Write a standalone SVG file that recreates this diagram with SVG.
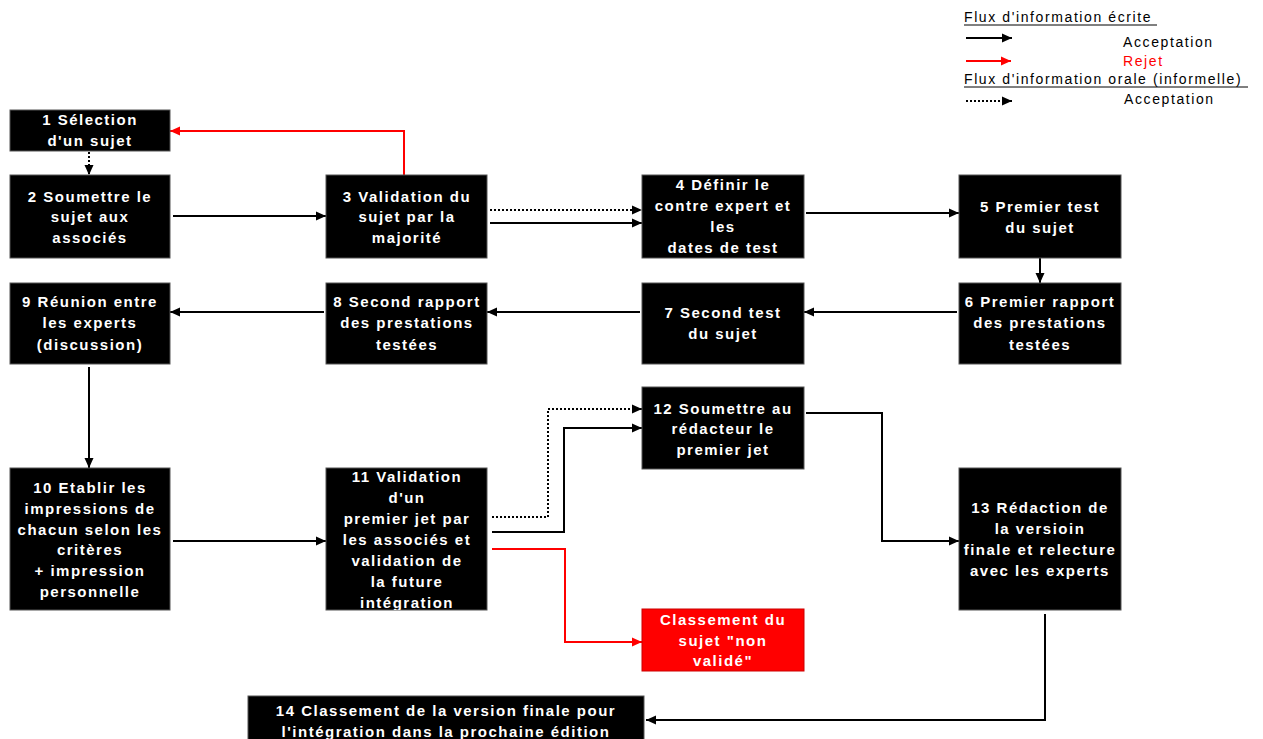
<svg xmlns="http://www.w3.org/2000/svg" width="1263" height="739" viewBox="0 0 1263 739">
<style>
.box{fill:#000;stroke:#555;stroke-width:1}
.red{fill:#ff0000;stroke:#cc0000;stroke-width:1}
.t{font-family:"Liberation Sans",Arial,sans-serif;font-weight:bold;font-size:15px;letter-spacing:1.5px;fill:#fff;text-anchor:middle}
.lg{font-family:"Liberation Sans",Arial,sans-serif;font-size:14px;letter-spacing:1.6px;fill:#000}
.c{fill:none;stroke:#000;stroke-width:2}
.d{fill:none;stroke:#000;stroke-width:2;stroke-dasharray:2,2}
.r{fill:none;stroke:#ff0000;stroke-width:2}
</style>
<defs>
<marker id="a" markerUnits="userSpaceOnUse" markerWidth="11" markerHeight="10" refX="10" refY="5" orient="auto"><path d="M0,0.5 L10,5 L0,9.5 z" fill="#000"/></marker>
<marker id="ar" markerUnits="userSpaceOnUse" markerWidth="11" markerHeight="10" refX="10" refY="5" orient="auto"><path d="M0,0.5 L10,5 L0,9.5 z" fill="#ff0000"/></marker>
<clipPath id="c11"><rect x="326" y="468" width="161" height="142"/></clipPath>
</defs>
<rect width="1263" height="739" fill="#fff"/>

<g id="legend">
<text class="lg" x="964" y="22">Flux d'information écrite</text>
<line x1="964" y1="25" x2="1157" y2="25" stroke="#000" stroke-width="1"/>
<line class="c" x1="966" y1="38" x2="1012" y2="38" marker-end="url(#a)"/>
<text class="lg" x="1123" y="47">Acceptation</text>
<line class="r" x1="966" y1="61" x2="1011" y2="61" marker-end="url(#ar)"/>
<text class="lg" x="1123" y="66" fill="#ff0000" style="fill:#ff0000">Rejet</text>
<text class="lg" x="964" y="84">Flux d'information orale (informelle)</text>
<line x1="964" y1="87" x2="1248" y2="87" stroke="#000" stroke-width="1"/>
<line class="d" x1="966" y1="101" x2="1012" y2="101" marker-end="url(#a)"/>
<text class="lg" x="1124" y="104">Acceptation</text>
</g>

<g id="connectors">
<line class="d" x1="89" y1="152" x2="89" y2="175" marker-end="url(#a)"/>
<line class="c" x1="173" y1="216" x2="326" y2="216" marker-end="url(#a)"/>
<polyline class="r" points="404,175 404,131 170,131" marker-end="url(#ar)"/>
<line class="d" x1="490" y1="210" x2="642" y2="210" marker-end="url(#a)"/>
<line class="c" x1="490" y1="223" x2="642" y2="223" marker-end="url(#a)"/>
<line class="c" x1="806" y1="213" x2="959" y2="213" marker-end="url(#a)"/>
<line class="c" x1="1040" y1="258" x2="1040" y2="283" marker-end="url(#a)"/>
<line class="c" x1="957" y1="312" x2="804" y2="312" marker-end="url(#a)"/>
<line class="c" x1="640" y1="312" x2="487" y2="312" marker-end="url(#a)"/>
<line class="c" x1="324" y1="312" x2="170" y2="312" marker-end="url(#a)"/>
<line class="c" x1="89" y1="367" x2="89" y2="468" marker-end="url(#a)"/>
<line class="c" x1="173" y1="541" x2="326" y2="541" marker-end="url(#a)"/>
<polyline class="d" points="492,517 548,517 548,409 642,409" marker-end="url(#a)"/>
<polyline class="c" points="492,532 564,532 564,428 642,428" marker-end="url(#a)"/>
<polyline class="r" points="492,549 565,549 565,642 642,642" marker-end="url(#ar)"/>
<polyline class="c" points="806,413 882,413 882,541 959,541" marker-end="url(#a)"/>
<polyline class="c" points="1045,614 1045,720 646,720" marker-end="url(#a)"/>
</g>

<g id="n1"><rect class="box" x="10" y="110" width="160" height="41"/>
<text class="t" x="90" y="125">1 Sélection</text><text class="t" x="90" y="146">d'un sujet</text></g>

<g id="n2"><rect class="box" x="10" y="175" width="160" height="83"/>
<text class="t" x="90" y="202">2 Soumettre le</text><text class="t" x="90" y="222">sujet aux</text><text class="t" x="90" y="243">associés</text></g>

<g id="n3"><rect class="box" x="326" y="175" width="161" height="83"/>
<text class="t" x="407" y="202">3 Validation du</text><text class="t" x="407" y="222">sujet par la</text><text class="t" x="407" y="243">majorité</text></g>

<g id="n4"><rect class="box" x="642" y="175" width="162" height="83"/>
<text class="t" x="723" y="190">4 Définir le</text><text class="t" x="723" y="211">contre expert et</text><text class="t" x="723" y="232">les</text><text class="t" x="723" y="253">dates de test</text></g>

<g id="n5"><rect class="box" x="959" y="175" width="162" height="83"/>
<text class="t" x="1040" y="212">5 Premier test</text><text class="t" x="1040" y="233">du sujet</text></g>

<g id="n6"><rect class="box" x="959" y="283" width="162" height="81"/>
<text class="t" x="1040" y="307">6 Premier rapport</text><text class="t" x="1040" y="328">des prestations</text><text class="t" x="1040" y="350">testées</text></g>

<g id="n7"><rect class="box" x="642" y="283" width="162" height="81"/>
<text class="t" x="723" y="318">7 Second test</text><text class="t" x="723" y="339">du sujet</text></g>

<g id="n8"><rect class="box" x="326" y="283" width="161" height="81"/>
<text class="t" x="407" y="307">8 Second rapport</text><text class="t" x="407" y="328">des prestations</text><text class="t" x="407" y="350">testées</text></g>

<g id="n9"><rect class="box" x="10" y="283" width="160" height="81"/>
<text class="t" x="90" y="307">9 Réunion entre</text><text class="t" x="90" y="328">les experts</text><text class="t" x="90" y="350">(discussion)</text></g>

<g id="n10"><rect class="box" x="10" y="468" width="160" height="142"/>
<text class="t" x="90" y="493">10 Etablir les</text><text class="t" x="90" y="514">impressions de</text><text class="t" x="90" y="535">chacun selon les</text><text class="t" x="90" y="555">critères</text><text class="t" x="90" y="576">+ impression</text><text class="t" x="90" y="597">personnelle</text></g>

<g id="n11"><rect class="box" x="326" y="468" width="161" height="142"/>
<g clip-path="url(#c11)">
<text class="t" x="407" y="482">11 Validation</text><text class="t" x="407" y="503">d'un</text><text class="t" x="407" y="524">premier jet par</text><text class="t" x="407" y="545">les associés et</text><text class="t" x="407" y="566">validation de</text><text class="t" x="407" y="587">la future</text><text class="t" x="407" y="608">intégration</text></g></g>

<g id="n12"><rect class="box" x="642" y="387" width="162" height="82"/>
<text class="t" x="723" y="414">12 Soumettre au</text><text class="t" x="723" y="434">rédacteur le</text><text class="t" x="723" y="455">premier jet</text></g>

<g id="nrej"><rect class="red" x="642" y="609" width="162" height="62"/>
<text class="t" x="723" y="625">Classement du</text><text class="t" x="723" y="646">sujet "non</text><text class="t" x="723" y="666">validé"</text></g>

<g id="n13"><rect class="box" x="959" y="468" width="162" height="142"/>
<text class="t" x="1040" y="513">13 Rédaction de</text><text class="t" x="1040" y="534">la versioin</text><text class="t" x="1040" y="555">finale et relecture</text><text class="t" x="1040" y="576">avec les experts</text></g>

<g id="n14"><rect class="box" x="248" y="696" width="396" height="50"/>
<text class="t" x="446" y="716">14 Classement de la version finale pour</text><text class="t" x="446" y="737">l'intégration dans la prochaine édition</text></g>
</svg>
